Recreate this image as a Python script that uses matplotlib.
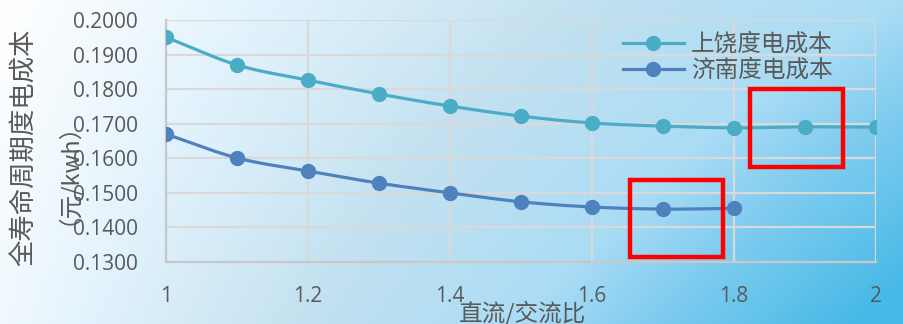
import numpy as np
import matplotlib.pyplot as plt
from matplotlib.patches import Rectangle

plt.rcParams['font.family'] = ['Noto Sans CJK SC', 'DejaVu Sans']

ratio = [1.0, 1.1, 1.2, 1.3, 1.4, 1.5, 1.6, 1.7, 1.8, 1.9, 2.0]
shangrao = [0.1950, 0.1870, 0.1826, 0.1786, 0.1751, 0.1722, 0.1702, 0.1693, 0.1688, 0.1691, 0.1690]
jinan = [0.1670, 0.1601, 0.1563, 0.1528, 0.1500, 0.1474, 0.1459, 0.1453, 0.1455]
series_names = ['上饶度电成本', '济南度电成本']
y_ticks = [0.13, 0.14, 0.15, 0.16, 0.17, 0.18, 0.19, 0.20]
x_ticks = [1.0, 1.2, 1.4, 1.6, 1.8, 2.0]
x_tick_labels = ['1', '1.2', '1.4', '1.6', '1.8', '2']

GREY = '#595959'
C1 = '#4bacc6'
C2 = '#4f81bd'


def smooth(x, y, n=20):
    # Catmull-Rom curve through the points
    x = np.asarray(x, float)
    y = np.asarray(y, float)
    px = np.concatenate([[2 * x[0] - x[1]], x, [2 * x[-1] - x[-2]]])
    py = np.concatenate([[2 * y[0] - y[1]], y, [2 * y[-1] - y[-2]]])
    t = np.linspace(0, 1, n, endpoint=False)
    xs, ys = [], []
    for i in range(1, len(px) - 2):
        for p, out in ((px, xs), (py, ys)):
            p0, p1, p2, p3 = p[i - 1], p[i], p[i + 1], p[i + 2]
            out.extend(0.5 * (2 * p1 + (-p0 + p2) * t
                              + (2 * p0 - 5 * p1 + 4 * p2 - p3) * t ** 2
                              + (-p0 + 3 * p1 - 3 * p2 + p3) * t ** 3))
    xs.append(x[-1])
    ys.append(y[-1])
    return np.array(xs), np.array(ys)


fig = plt.figure(figsize=(9.04, 3.24), dpi=100)

# background: white in the top-left corner fading to sky blue bottom-right
bg = fig.add_axes([0, 0, 1, 1], zorder=-10)
h, w = 324, 904
yy, xx = np.mgrid[0:h, 0:w]
u = xx / w
v = yy / h
s = np.clip(0.65 * u + 0.1 * v + 0.3 * u * v, 0, 1)
stops = [0.0, 0.2, 0.42, 0.65, 0.77, 1.0]
cols = np.array([[255, 255, 255], [225, 242, 252], [195, 225, 240],
                 [170, 220, 245], [130, 205, 240], [70, 185, 230]]) / 255
img = np.stack([np.interp(s, stops, cols[:, k]) for k in range(3)], axis=-1)
bg.imshow(img, aspect='auto', extent=[0, 1, 0, 1])
bg.axis('off')

ax = fig.add_axes([0.1836, 0.1914, 0.7854, 0.7469])
ax.patch.set_alpha(0)

sx, sy = smooth(ratio, shangrao)
ax.plot(sx, sy, color=C1, lw=2.3, zorder=3)
ax.plot(ratio, shangrao, 'o', color=C1, ms=10, zorder=4)
jx, jy = smooth(ratio[:len(jinan)], jinan)
ax.plot(jx, jy, color=C2, lw=2.3, zorder=3)
ax.plot(ratio[:len(jinan)], jinan, 'o', color=C2, ms=10, zorder=4)

# legend proxies
h1, = ax.plot([], [], '-o', color=C1, lw=2.3, ms=10)
h2, = ax.plot([], [], '-o', color=C2, lw=2.3, ms=10)
leg = ax.legend([h1, h2], series_names, loc='upper left',
                bbox_to_anchor=(0.63, 0.985), frameon=False, fontsize=17,
                handlelength=2.6, handletextpad=0.3, labelspacing=0.12,
                borderaxespad=0)
for t in leg.get_texts():
    t.set_color(GREY)

ax.set_xlim(1.0, 2.0)
ax.set_ylim(0.13, 0.20)
ax.set_xticks(x_ticks, x_tick_labels)
ax.set_yticks(y_ticks, [f'{v:.4f}' for v in y_ticks])
ax.tick_params(length=0, labelsize=15, colors=GREY)
ax.tick_params(axis='y', pad=20)
ax.tick_params(axis='x', pad=17)
for lab in ax.get_xticklabels() + ax.get_yticklabels():
    lab.set_family(['Open Sans', 'DejaVu Sans'])
ax.grid(True, color='#d9d9d9', lw=1.6)
ax.set_axisbelow(True)
for side in ['top', 'right']:
    ax.spines[side].set_visible(False)
for side in ['left', 'bottom']:
    ax.spines[side].set_color('#c8c8c8')
    ax.spines[side].set_linewidth(1.6)

# highlight boxes
for x0, x1, y0, y1 in [(1.6535, 1.7845, 0.1315, 0.1537),
                       (1.8225, 1.9535, 0.1575, 0.1800)]:
    ax.add_patch(Rectangle((x0, y0), x1 - x0, y1 - y0, fill=False,
                           ec='#ff0000', lw=3.2, zorder=6, clip_on=False))

fig.text(0.027, 0.545, '全寿命周期度电成本', rotation=90, ha='center',
         va='center', fontsize=19, color=GREY)
fig.text(0.062, 0.50, '（元/kwh）', rotation=90, ha='center',
         va='center', fontsize=17, color=GREY)
fig.text(0.578, 0.035, '直流/交流比', ha='center', va='center',
         fontsize=17, color=GREY)

fig.savefig('out.png', dpi=100)
